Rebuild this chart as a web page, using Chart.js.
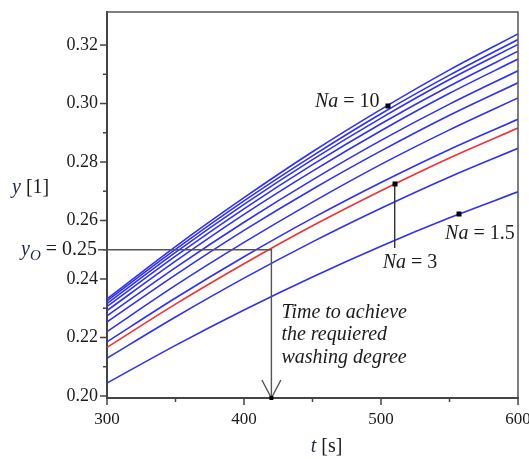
<!DOCTYPE html>
<html><head><meta charset="utf-8">
<style>html,body{margin:0;padding:0;background:#fff}</style>
<script src="https://cdn.jsdelivr.net/npm/chart.js@4/dist/chart.umd.min.js"></script>
</head><body>
<canvas id="c" width="529" height="459"></canvas>
<script>
// ---- data ----
const tValues = [300, 350, 400, 450, 500, 550, 600];
const yNa10  = [0.2332, 0.2511, 0.2678, 0.2835, 0.2980, 0.3115, 0.3238];
const yC2    = [0.2325, 0.2501, 0.2667, 0.2821, 0.2965, 0.3097, 0.3219];
const yC3    = [0.2316, 0.2491, 0.2655, 0.2808, 0.2950, 0.3082, 0.3202];
const yC4    = [0.2306, 0.2478, 0.2640, 0.2791, 0.2931, 0.3060, 0.3179];
const yC5    = [0.2292, 0.2461, 0.2621, 0.2769, 0.2907, 0.3035, 0.3152];
const yC6    = [0.2274, 0.2439, 0.2594, 0.2739, 0.2874, 0.2998, 0.3112];
const yC7    = [0.2253, 0.2414, 0.2566, 0.2707, 0.2838, 0.2960, 0.3071];
const yC8    = [0.2220, 0.2378, 0.2525, 0.2663, 0.2792, 0.2910, 0.3019];
const yC9    = [0.2185, 0.2335, 0.2476, 0.2608, 0.2730, 0.2843, 0.2946];
const yNa3   = [0.2166, 0.2314, 0.2452, 0.2582, 0.2702, 0.2814, 0.2916];
const yC11   = [0.2129, 0.2270, 0.2403, 0.2527, 0.2642, 0.2749, 0.2847];
const yNa1_5 = [0.2044, 0.2173, 0.2294, 0.2407, 0.2512, 0.2609, 0.2698];

const xTicks = [300, 350, 400, 450, 500, 550, 600];
const yTicks = [0.20, 0.21, 0.22, 0.23, 0.24, 0.25, 0.26, 0.27, 0.28, 0.29, 0.30, 0.31, 0.32];

const yTarget = 0.25;   // y_O
const tTarget = 420;    // time to achieve
const markerNa10 = 504.8, markerNa3 = 510, markerNa1_5 = 557;

const blueSeries = [yNa10, yC2, yC3, yC4, yC5, yC6, yC7, yC8, yC9, yC11, yNa1_5];

function interp(series, tt){
  for (let i=0;i<tValues.length-1;i++){
    if (tt>=tValues[i] && tt<=tValues[i+1]){
      const f=(tt-tValues[i])/(tValues[i+1]-tValues[i]);
      return series[i]+f*(series[i+1]-series[i]);
    }
  }
  return series[series.length-1];
}
const toPts = s => tValues.map((t,i)=>({x:t,y:s[i]}));

const datasets = blueSeries.map(s=>({data:toPts(s), borderColor:'#3030f4', borderWidth:1.6, pointRadius:0, cubicInterpolationMode:'monotone', fill:false}));
datasets.push({data:toPts(yNa3), borderColor:'#f43030', borderWidth:1.6, pointRadius:0, cubicInterpolationMode:'monotone', fill:false});

const SERIF = '"Liberation Serif", "DejaVu Serif", serif';
const TXT = '#1c1c1c';

function rich(ctx, parts, x, y, align){
  let w=0;
  parts.forEach(p=>{ctx.font=p.f; w+=ctx.measureText(p.t).width;});
  let cx = align==='right'? x-w : (align==='center'? x-w/2 : x);
  ctx.textBaseline='middle'; ctx.textAlign='left';
  parts.forEach(p=>{ctx.font=p.f; ctx.fillStyle=p.c||TXT; ctx.fillText(p.t, cx, y+(p.dy||0)); cx+=ctx.measureText(p.t).width;});
}

const deco = {
  id:'deco',
  afterDatasetsDraw(chart){
    const {ctx, chartArea:a, scales:{x, y}} = chart;
    ctx.save();
    ctx.strokeStyle='#555'; ctx.lineWidth=1.5;
    ctx.beginPath(); ctx.moveTo(a.left, a.top); ctx.lineTo(a.right, a.top); ctx.lineTo(a.right, a.bottom); ctx.stroke();
    ctx.strokeStyle='#444'; ctx.lineWidth=1.5;
    yTicks.forEach(v=>{
      const major = Math.round(v*100)%2===0;
      const py = y.getPixelForValue(v);
      ctx.beginPath(); ctx.moveTo(a.left-(major?7:4), py); ctx.lineTo(a.left, py); ctx.stroke();
    });
    xTicks.forEach(v=>{
      const major = v%100===0;
      const px = x.getPixelForValue(v);
      ctx.beginPath(); ctx.moveTo(px, a.bottom); ctx.lineTo(px, a.bottom+(major?7:4)); ctx.stroke();
    });
    const py = y.getPixelForValue(yTarget), px = x.getPixelForValue(tTarget);
    ctx.strokeStyle='#555'; ctx.lineWidth=1.4;
    ctx.beginPath(); ctx.moveTo(a.left-9, py); ctx.lineTo(px, py); ctx.lineTo(px, a.bottom); ctx.stroke();
    ctx.beginPath(); ctx.moveTo(px-9.5, a.bottom-18); ctx.lineTo(px, a.bottom); ctx.lineTo(px+9.5, a.bottom-18); ctx.stroke();
    ctx.fillStyle='#000'; ctx.fillRect(px-2, a.bottom-2, 4, 4);
    const m10 = {x:x.getPixelForValue(markerNa10), y:y.getPixelForValue(interp(yNa10, markerNa10))};
    const m3 = {x:x.getPixelForValue(markerNa3), y:y.getPixelForValue(interp(yNa3, markerNa3))};
    const m15 = {x:x.getPixelForValue(markerNa1_5), y:y.getPixelForValue(interp(yNa1_5, markerNa1_5))};
    ctx.strokeStyle='#333'; ctx.lineWidth=1.4;
    ctx.beginPath(); ctx.moveTo(m3.x, m3.y); ctx.lineTo(m3.x, m3.y+64); ctx.stroke();
    ctx.fillStyle='#000';
    [m10, m3, m15].forEach(m=>ctx.fillRect(Math.round(m.x)-2.5, Math.round(m.y)-2.5, 5, 5));
    const it = 'italic 20px '+SERIF, rg = '20px '+SERIF;
    rich(ctx, [{t:'Na',f:it},{t:' = 10',f:rg}], m10.x-8, m10.y-4, 'right');
    rich(ctx, [{t:'Na',f:it},{t:' = 3',f:rg}], m3.x-12, m3.y+79, 'left');
    rich(ctx, [{t:'Na',f:it},{t:' = 1.5',f:rg}], m15.x-14, m15.y+20, 'left');
    ctx.font = it; ctx.fillStyle=TXT; ctx.textAlign='left'; ctx.textBaseline='middle';
    ctx.fillText('Time to achieve', px+10, 313);
    ctx.fillText('the requiered', px+10, 335);
    ctx.fillText('washing degree', px+10, 358);
    rich(ctx, [{t:'y',f:it,c:'#1d2a44'},{t:' [1]',f:rg}], 12, 188, 'left');
    rich(ctx, [{t:'t',f:it,c:'#1d2a44'},{t:' [s]',f:rg}], (a.left+a.right)/2+14, 447, 'center');
    rich(ctx, [{t:'y',f:it,c:'#1d2a44'},{t:'O',f:'italic 15px '+SERIF,c:'#1d2a44',dy:6},{t:' = 0.25',f:rg}], a.left-10, py, 'right');
    ctx.restore();
  }
};

new Chart(document.getElementById('c'), {
  type:'line',
  data:{datasets},
  options:{
    responsive:false, animation:false, devicePixelRatio:1,
    layout:{padding:{top:12, right:11, left:0, bottom:0}},
    plugins:{legend:{display:false}, tooltip:{enabled:false}},
    scales:{
      x:{type:'linear', min:300, max:600,
        afterBuildTicks:s=>{s.ticks = xTicks.map(v=>({value:v}));},
        afterFit:s=>{s.height=61; s.paddingLeft=0; s.paddingRight=0;},
        ticks:{callback:v=> v%100===0 ? String(v) : '', font:{family:SERIF, size:17}, color:TXT, padding:5, maxRotation:0, autoSkip:false},
        grid:{display:true, drawOnChartArea:false, drawTicks:true, tickLength:6, tickColor:'rgba(0,0,0,0)'},
        border:{display:true, color:'#444', width:2}},
      y:{type:'linear', min:0.1993, max:0.3313,
        afterBuildTicks:s=>{s.ticks = yTicks.map(v=>({value:v}));},
        afterFit:s=>{s.width=107; s.paddingTop=0; s.paddingBottom=0;},
        ticks:{callback:v=> Math.round(v*100)%2===0 ? v.toFixed(2) : '', font:{family:SERIF, size:18}, color:TXT, padding:3, autoSkip:false},
        grid:{display:true, drawOnChartArea:false, drawTicks:true, tickLength:6, tickColor:'rgba(0,0,0,0)'},
        border:{display:true, color:'#444', width:2}}
    }
  },
  plugins:[deco]
});
</script>
</body></html>
